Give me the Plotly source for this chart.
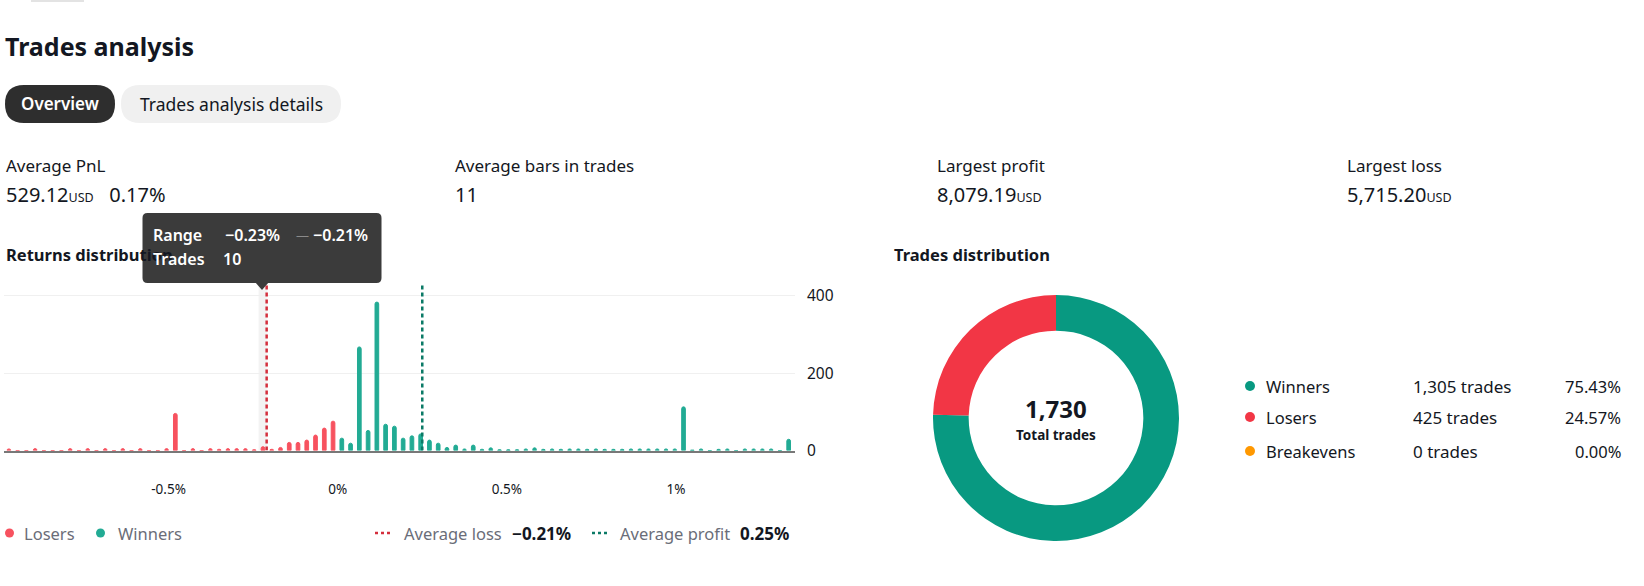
import plotly.graph_objects as go

W, H = 1644, 586

# ---------------- data ----------------
bin_start = -0.985      # lower edge of first return bin (%)
bin_width = 0.0259      # width of each return bin (%)
trade_counts = [
    4, 0, 0, 5, 0, 0, 0, 5, 0, 5,          # 0-9
    0, 5, 0, 5, 0, 5, 0, 0, 5, 96,         # 10-19
    0, 5, 0, 5, 3, 5, 5, 5, 2, 10,         # 20-29
    3, 8, 21, 21, 27, 40, 58, 76, 32, 19,  # 30-39
    268, 52, 384, 68, 63, 32, 38, 43, 27, 19,  # 40-49
    8, 14, 4, 14, 3, 7, 2, 2, 2, 4,        # 50-59
    7, 3, 4, 3, 4, 4, 3, 4, 3, 3,          # 60-69
    3, 4, 4, 4, 4, 4, 4, 113, 1, 4,        # 70-79
    0, 3, 4, 0, 4, 4, 4, 4, 0, 29,         # 80-89
]
avg_loss = -0.21
avg_profit = 0.25
avg_loss_text = "−0.21%"
avg_profit_text = "0.25%"
x_tick_vals = [-0.5, 0, 0.5, 1]
x_tick_text = ["-0.5%", "0%", "0.5%", "1%"]
y_tick_vals = [0, 200, 400]

dist_labels = ["Winners", "Losers", "Breakevens"]
dist_counts = [1305, 425, 0]
dist_counts_text = ["1,305 trades", "425 trades", "0 trades"]
dist_pcts = ["75.43%", "24.57%", "0.00%"]
total_trades_text = "1,730"

stat_labels = ["Average PnL", "Average bars in trades", "Largest profit", "Largest loss"]
stat_values = ["529.12", "11", "8,079.19", "5,715.20"]
stat_units = ["USD", "", "USD", "USD"]
stat_extra = ["0.17%", "", "", ""]

hover_bin = 29
hover_range = ("−0.23%", "−0.21%")
hover_trades = "10"

# ---------------- styles ----------------
FONT = "Noto Sans"
TXT = "#131722"
GREY = "#6a6d78"
RED_BAR = "#F7525F"
GREEN_BAR = "#22AB94"
RED_LINE = "#D42E3C"
GREEN_LINE = "#0B7A66"
DONUT_COLORS = ["#089981", "#F23645", "#FF9800"]


def px(x):
    return x / W


def py(y):
    return 1 - y / H


def rrect(x0, y0, x1, y1, r):
    return (f"M {px(x0+r)},{py(y0)} L {px(x1-r)},{py(y0)} "
            f"Q {px(x1)},{py(y0)} {px(x1)},{py(y0+r)} L {px(x1)},{py(y1-r)} "
            f"Q {px(x1)},{py(y1)} {px(x1-r)},{py(y1)} L {px(x0+r)},{py(y1)} "
            f"Q {px(x0)},{py(y1)} {px(x0)},{py(y1-r)} L {px(x0)},{py(y0+r)} "
            f"Q {px(x0)},{py(y0)} {px(x0+r)},{py(y0)} Z")


centers = [bin_start + bin_width * (i + 0.5) for i in range(len(trade_counts))]
lx = [c for c, n in zip(centers, trade_counts) if c < 0]
ly = [n for c, n in zip(centers, trade_counts) if c < 0]
wx = [c for c, n in zip(centers, trade_counts) if c >= 0]
wy = [n for c, n in zip(centers, trade_counts) if c >= 0]

fig = go.Figure()
bw = bin_width * 0.42
fig.add_trace(go.Bar(x=lx, y=ly, width=bw, marker=dict(color=RED_BAR, cornerradius=2,
                     line=dict(color=RED_BAR, width=1)), name="Losers", xaxis="x", yaxis="y"))
fig.add_trace(go.Bar(x=wx, y=wy, width=bw, marker=dict(color=GREEN_BAR, cornerradius=2,
                     line=dict(color=GREEN_BAR, width=1)), name="Winners", xaxis="x", yaxis="y"))

dcx, dcy, dr = 1056, 418, 123
fig.add_trace(go.Pie(values=dist_counts, labels=dist_labels, marker=dict(colors=DONUT_COLORS, line=dict(width=0)),
                     hole=0.71, sort=False, direction="clockwise", rotation=0, textinfo="none",
                     domain=dict(x=[px(dcx - dr), px(dcx + dr)], y=[py(dcy + dr), py(dcy - dr)]),
                     showlegend=False, automargin=False))

# axis geometry
x_left_px, x_right_px = 4, 795
zero_px, pp = 337.7, 338.3
y_top_px, y_base_px = 281, 450.5
unit = 0.3865

shapes = []
annotations = []

# hover highlight column
hx0 = bin_start + bin_width * hover_bin
shapes.append(dict(type="rect", xref="x", yref="y", x0=hx0, x1=hx0 + bin_width, y0=0, y1=433,
                   fillcolor="#f3f3f3", line=dict(width=0), layer="below"))
# average lines
shapes.append(dict(type="line", xref="x", yref="y", x0=avg_loss, x1=avg_loss, y0=0, y1=433,
                   line=dict(color=RED_LINE, width=2.5, dash="4px,3px")))
shapes.append(dict(type="line", xref="x", yref="y", x0=avg_profit, x1=avg_profit, y0=0, y1=433,
                   line=dict(color=GREEN_LINE, width=2.5, dash="4px,3px")))

# top small mark
shapes.append(dict(type="rect", xref="paper", yref="paper", x0=px(31), x1=px(84), y0=py(2), y1=py(0),
                   fillcolor="#e3e3e3", line=dict(width=0)))
# pills
shapes.append(dict(type="path", xref="paper", yref="paper", path=rrect(5, 85, 115, 123, 19),
                   fillcolor="#2e2e2e", line=dict(width=0)))
shapes.append(dict(type="path", xref="paper", yref="paper", path=rrect(121, 85, 341, 123, 19),
                   fillcolor="#f0f0f0", line=dict(width=0)))


def txt(x, y, s, size=16, color=TXT, anchor="left", weight="normal", yanchor="middle"):
    annotations.append(dict(x=px(x), y=py(y), xref="paper", yref="paper", text=s, showarrow=False,
                            xanchor=anchor, yanchor=yanchor,
                            font=dict(family=FONT, size=size, color=color, weight=weight)))


txt(3, 46, "Trades analysis", size=25, weight="bold")
txt(60, 104, "Overview", size=17, color="#ffffff", anchor="center", weight=600)
txt(231, 104, "Trades analysis details", size=17.5, anchor="center")

stat_x = [4, 453, 935, 1345]
for x, lab, val, u, ex in zip(stat_x, stat_labels, stat_values, stat_units, stat_extra):
    txt(x, 165, lab, size=17)
    s = val
    if u:
        s += f"<span style='font-size:12.5px'>{u}</span>"
    if ex:
        s += "&nbsp;&nbsp;&nbsp;" + ex
    txt(x, 194, s, size=20)

txt(4, 255, "Returns distribution", size=16.5, weight="bold")
txt(892, 255, "Trades distribution", size=16.5, weight="bold")

# histogram legend
shapes.append(dict(type="circle", xref="paper", yref="paper", x0=px(5), x1=px(14), y0=py(537.5), y1=py(528.5),
                   fillcolor=RED_BAR, line=dict(width=0)))
txt(22, 533, "Losers", size=16.5, color=GREY)
shapes.append(dict(type="circle", xref="paper", yref="paper", x0=px(96), x1=px(105), y0=py(537.5), y1=py(528.5),
                   fillcolor=GREEN_BAR, line=dict(width=0)))
txt(116, 533, "Winners", size=16.5, color=GREY)
shapes.append(dict(type="line", xref="paper", yref="paper", x0=px(375), x1=px(391), y0=py(533), y1=py(533),
                   line=dict(color=RED_LINE, width=2.5, dash="3px,3px")))
txt(402, 533, "Average loss", size=16.5, color=GREY)
txt(510, 533, avg_loss_text, size=17, weight="bold")
shapes.append(dict(type="line", xref="paper", yref="paper", x0=px(592), x1=px(608), y0=py(533), y1=py(533),
                   line=dict(color=GREEN_LINE, width=2.5, dash="3px,3px")))
txt(618, 533, "Average profit", size=16.5, color=GREY)
txt(791, 533, avg_profit_text, size=17, weight="bold", anchor="right")

# donut center + legend
txt(dcx, 408, total_trades_text, size=24, weight="bold", anchor="center")
txt(dcx, 435, "Total trades", size=13.5, weight="bold", anchor="center")
rows_y = [386, 417, 451]
for ry, lab, ct, pc, col in zip(rows_y, dist_labels, dist_counts_text, dist_pcts, DONUT_COLORS):
    shapes.append(dict(type="circle", xref="paper", yref="paper", x0=px(1245), x1=px(1255),
                       y0=py(ry + 5), y1=py(ry - 5), fillcolor=col, line=dict(width=0)))
    txt(1264, ry, lab, size=16.5)
    txt(1411, ry, ct, size=17)
    txt(1623, ry, pc, size=16.5, anchor="right")

# tooltip
shapes.append(dict(type="path", xref="paper", yref="paper", path=rrect(142.5, 213, 381.5, 283, 5),
                   fillcolor="#3b3b3b", line=dict(width=0)))
shapes.append(dict(type="path", xref="paper", yref="paper",
                   path=f"M {px(255)},{py(282)} L {px(269)},{py(282)} L {px(262)},{py(290)} Z",
                   fillcolor="#3b3b3b", line=dict(width=0)))
txt(151, 235, "Range", size=16, color="#ffffff", weight=600)
txt(223, 235, hover_range[0], size=16, color="#ffffff", weight=600)
txt(294, 235, "—", size=13, color="#8a8a8a")
txt(311, 235, hover_range[1], size=16, color="#ffffff", weight=600)
txt(151, 259, "Trades", size=16, color="#ffffff", weight=600)
txt(221, 259, hover_trades, size=16, color="#ffffff", weight=600)

x_range = [(x_left_px - zero_px) / pp, (x_right_px - zero_px) / pp]
y_range = [0, (y_base_px - y_top_px) / unit]

fig.update_layout(
    template="none",
    width=W, height=H, autosize=False,
    margin=dict(l=0, r=0, t=0, b=0, pad=0, autoexpand=False),
    paper_bgcolor="white", plot_bgcolor="white",
    barmode="overlay", showlegend=False, hovermode=False,
    font=dict(family=FONT, color=TXT),
    xaxis=dict(domain=[px(x_left_px), px(x_right_px)], range=x_range, showgrid=False, zeroline=False,
               showline=True, linecolor="#787878", linewidth=1.5, ticks="", automargin=False,
               tickvals=x_tick_vals, ticktext=x_tick_text, tickfont=dict(size=13.5, color=TXT),
               ticklabelstandoff=26, fixedrange=True),
    yaxis=dict(domain=[py(y_base_px), py(y_top_px)], range=y_range, side="right", showgrid=True,
               gridcolor="#f0f0f0", gridwidth=1, zeroline=False, showline=False, ticks="", automargin=False,
               tickvals=y_tick_vals, tickfont=dict(size=15.5, color=TXT), ticklabelstandoff=11,
               fixedrange=True),
    shapes=shapes, annotations=annotations,
)

fig.write_html("out.html")
